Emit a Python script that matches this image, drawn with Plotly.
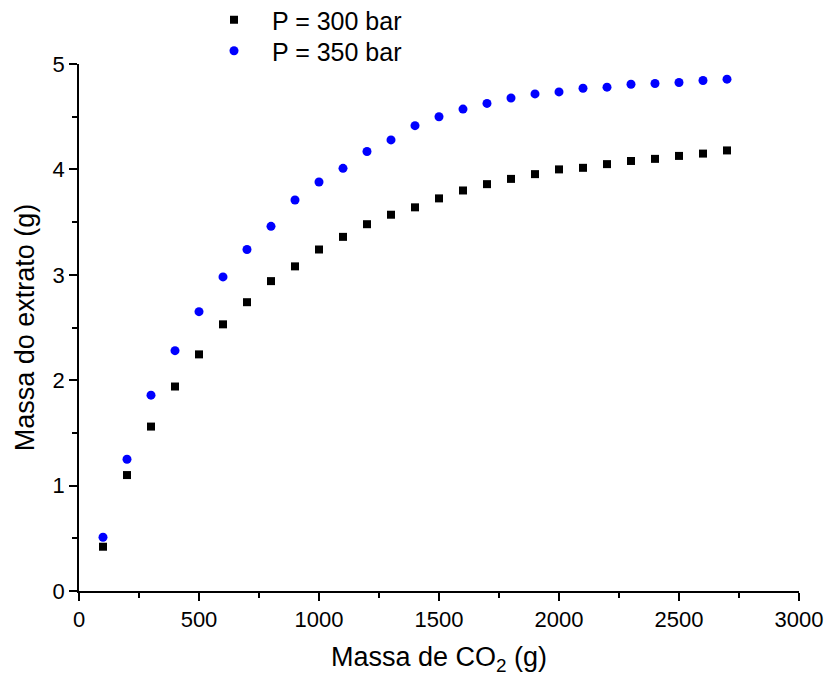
import plotly.graph_objects as go

massa_co2 = [100, 200, 300, 400, 500, 600, 700, 800, 900, 1000, 1100, 1200, 1300, 1400,
             1500, 1600, 1700, 1800, 1900, 2000, 2100, 2200, 2300, 2400, 2500, 2600, 2700]
extrato_300 = [0.42, 1.10, 1.56, 1.94, 2.245, 2.53, 2.74, 2.94, 3.08, 3.24, 3.36, 3.48, 3.57, 3.64,
               3.725, 3.80, 3.86, 3.91, 3.955, 4.00, 4.015, 4.05, 4.08, 4.10, 4.128, 4.15, 4.18]
extrato_350 = [0.51, 1.25, 1.858, 2.28, 2.65, 2.98, 3.24, 3.46, 3.71, 3.88, 4.01, 4.17, 4.28, 4.415,
               4.50, 4.572, 4.626, 4.677, 4.716, 4.735, 4.77, 4.78, 4.808, 4.815, 4.824, 4.843, 4.856]
series_names = ["P = 300 bar", "P = 350 bar"]

FONT = "Liberation Sans, Arial, sans-serif"

fig = go.Figure()
fig.add_trace(go.Scatter(x=massa_co2, y=extrato_300, mode="markers", name=series_names[0],
                         legend="legend",
                         marker=dict(symbol="square", size=8, color="black")))
fig.add_trace(go.Scatter(x=massa_co2, y=extrato_350, mode="markers", name=series_names[1],
                         legend="legend2",
                         marker=dict(symbol="circle", size=9, color="#0000ff")))

axis_common = dict(showline=True, linecolor="black", linewidth=1.5, ticks="outside",
                   ticklen=8, tickwidth=1.5, tickcolor="black", showgrid=False, zeroline=False,
                   tickfont=dict(family=FONT, size=22, color="black"), mirror=False)

fig.update_xaxes(range=[0, 3000], dtick=500, tick0=0,
                 minor=dict(ticks="outside", ticklen=5, tickwidth=1.5, tickcolor="black", dtick=250),
                 title=dict(text="Massa de CO<sub>2</sub> (g)", standoff=16,
                            font=dict(family=FONT, size=27, color="black")),
                 **axis_common)
fig.update_yaxes(range=[0, 5], dtick=1, tick0=0,
                 minor=dict(ticks="outside", ticklen=5, tickwidth=1.5, tickcolor="black", dtick=0.5),
                 title=dict(text="Massa do extrato (g)", standoff=10,
                            font=dict(family=FONT, size=27, color="black")),
                 **axis_common)

PLOT_L, PLOT_W, PLOT_B, PLOT_H = 79, 720, 591, 527
leg_common = dict(xanchor="left", yanchor="top", bgcolor="rgba(0,0,0,0)",
                  font=dict(family=FONT, size=25, color="black"), itemwidth=66)

fig.update_layout(
    width=832, height=684,
    margin=dict(l=79, r=33, t=64, b=93, autoexpand=False),
    plot_bgcolor="white", paper_bgcolor="white",
    font=dict(family=FONT, color="black"),
    showlegend=True,
    legend=dict(x=(196 - PLOT_L) / PLOT_W, y=(PLOT_B + 3) / PLOT_H, **leg_common),
    legend2=dict(x=(196 - PLOT_L) / PLOT_W, y=(PLOT_B - 28) / PLOT_H, **leg_common),
)

fig.write_html("out.html", config={"displayModeBar": False},
               post_script="document.body.style.margin='0';document.body.style.overflow='hidden';")
